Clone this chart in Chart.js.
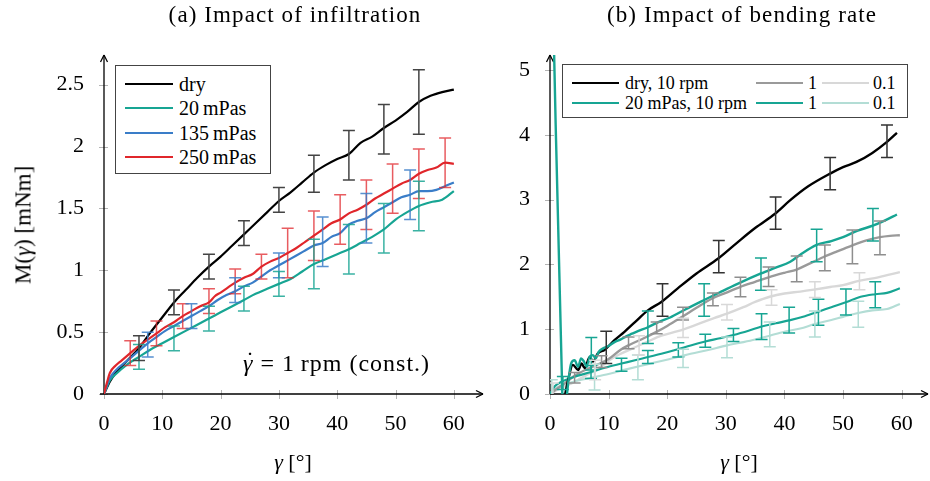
<!DOCTYPE html>
<html>
<head>
<meta charset="utf-8">
<script src="https://cdn.jsdelivr.net/npm/chart.js@4.4.1/dist/chart.umd.min.js"></script>
<style>
  body { margin: 0; background: #fff; }
  #wrap { position: relative; width: 930px; height: 481px; overflow: hidden; font-family: "Liberation Serif", serif; color: #000; }
  canvas { position: absolute; top: 0; }
  #cA { left: 0; }
  #cB { left: 470px; }
  .t { position: absolute; white-space: nowrap; line-height: 1; }
  .title { font-size: 23px; letter-spacing: 1.1px; top: 3px; transform: translateX(-50%); }
  .xlab { font-size: 22px; top: 451px; transform: translateX(-50%); }
  .ylab { font-size: 23px; left: 23px; top: 225px; transform: translate(-50%, -50%) rotate(-90deg); }
  .legend { position: absolute; background: #fff; border: 1.4px solid #444; box-sizing: border-box; }
  .legend .ln { position: absolute; height: 2.6px; }
  .legend .tx { position: absolute; white-space: nowrap; line-height: 1; transform: translateY(-50%); }
  #legA .tx { font-size: 20px; }
  #legB .tx { font-size: 18px; }
  .gd { position: relative; display: inline-block; }
  .gd .dot { position: absolute; left: 3px; top: -3px; font-style: normal; }
</style>
</head>
<body>
<div id="wrap">
  <canvas id="cA" width="490" height="481"></canvas>
  <canvas id="cB" width="460" height="481"></canvas>

  <div class="t title" style="left:295px">(a) Impact of infiltration</div>
  <div class="t title" style="left:742px">(b) Impact of bending rate</div>
  <div class="t ylab">M(<i>γ</i>) [mNm]</div>
  <div class="t xlab" style="left:293px"><i>γ</i> [°]</div>
  <div class="t xlab" style="left:739px"><i>γ</i> [°]</div>
  <div class="t" style="left:243px;top:351px;font-size:24px;letter-spacing:1px"><span class="gd"><i>γ</i><span class="dot">˙</span></span> = 1&#8201;rpm (const.)</div>

  <div class="legend" id="legA" style="left:115px;top:65px;width:156px;height:109px"></div>
  <div class="legend" id="legB" style="left:562px;top:64px;width:346px;height:54px"></div>
</div>

<script>
// ---------- (a) impact of infiltration, 1 rpm ----------
const aDryX  = [0,1,2,4,6,8,10,12,14,16,18,20,22,24,26,28,30,32,34,36,38,40,42,44,46,48,50,52,54,56,58,60];
const aDryY  = [0,0.1,0.17,0.27,0.37,0.5,0.62,0.74,0.84,0.94,1.03,1.11,1.2,1.29,1.38,1.47,1.56,1.63,1.71,1.79,1.85,1.9,1.94,2.03,2.08,2.15,2.21,2.28,2.36,2.41,2.44,2.46];
const aTealX = [0,1,2,4,6,8,10,12,14,16,18,20,22,24,26,28,30,32,34,36,38,40,42,44,46,48,50,52,54,56,58,60];
const aTealY = [0,0.11,0.16,0.24,0.3,0.36,0.41,0.46,0.51,0.56,0.61,0.66,0.71,0.76,0.81,0.85,0.89,0.93,0.99,1.05,1.09,1.13,1.17,1.22,1.27,1.33,1.41,1.47,1.52,1.55,1.57,1.64];
const aBlueX = [0,1,2,4,6,7.5,9,10.5,12,13.5,15,16.5,18,19.5,21,22.5,24,25.5,27,28.5,30,31.5,33,34.5,36,37.5,39,40.5,42,43.5,45,46.5,48,49.5,51,52.5,54,55.5,57,58.5,60];
const aBlueY = [0,0.13,0.19,0.27,0.35,0.41,0.46,0.51,0.55,0.59,0.63,0.67,0.71,0.76,0.8,0.83,0.87,0.9,0.95,1.0,1.04,1.08,1.12,1.16,1.2,1.22,1.27,1.3,1.37,1.4,1.42,1.47,1.51,1.55,1.59,1.61,1.64,1.64,1.65,1.68,1.71];
const aRedX  = [0,0.5,1,2,3,4.5,6,7.5,9,10.5,12,13.5,15,16.5,18,19,20,22.5,24,25.5,27,28.5,30,31.5,33,34.5,36,37.5,39,40.5,42,43.5,45,46.5,48,49.5,51,52.5,54,55.5,57,58.5,60];
const aRedY  = [0,0.09,0.17,0.23,0.27,0.33,0.39,0.44,0.49,0.54,0.58,0.63,0.67,0.71,0.74,0.79,0.82,0.9,0.94,0.97,1.03,1.07,1.1,1.14,1.18,1.23,1.28,1.33,1.38,1.41,1.46,1.49,1.53,1.58,1.62,1.66,1.7,1.73,1.78,1.81,1.83,1.87,1.86];

// error bars: position, centre, half height
const aDryErrX  = [6,12,18,24,30,36,42,48,54];
const aDryErrC  = [0.37,0.74,1.03,1.30,1.57,1.78,1.93,2.14,2.36];
const aDryErrH  = [0.1,0.1,0.1,0.1,0.1,0.15,0.2,0.2,0.26];
const aTealErrX = [6,12,18,24,30,36,42,48,54];
const aTealErrC = [0.30,0.45,0.61,0.77,0.89,1.05,1.17,1.34,1.52];
const aTealErrH = [0.1,0.1,0.1,0.1,0.1,0.2,0.2,0.2,0.2];
const aBlueErrX = [7.5,15,22.5,30,37.5,45,52.5];
const aBlueErrC = [0.40,0.63,0.84,1.04,1.23,1.42,1.61];
const aBlueErrH = [0.1,0.1,0.1,0.1,0.2,0.2,0.2];
const aRedErrX  = [4.5,9,13.5,18,22.5,27,31.5,36,40.5,45,49.5,54,58.5];
const aRedErrC  = [0.33,0.49,0.63,0.75,0.91,1.03,1.14,1.28,1.41,1.53,1.66,1.78,1.87];
const aRedErrH  = [0.1,0.1,0.1,0.1,0.1,0.1,0.2,0.2,0.2,0.2,0.2,0.2,0.2];

const aXTicks = [0,10,20,30,40,50,60];
const aYTicks = [0,0.5,1,1.5,2,2.5];

// ---------- (b) impact of bending rate ----------
const bDry10X  = [2.6,3.1,3.9,4.8,5.4,5.9,6.8,7.3,8.2,9.3,11,12.7,14.5,16.7,19,21.8,25,28.7,32,35,38.4,41,44,47.8,50,52.3,55,57.5,59.2];
const bDry10Y  = [0,0.22,0.45,0.37,0.47,0.40,0.57,0.50,0.63,0.68,0.83,0.96,1.11,1.29,1.42,1.63,1.86,2.09,2.34,2.56,2.78,2.99,3.2,3.40,3.5,3.58,3.72,3.89,4.03];
const bTeal10X = [0.4,2.1,2.5,2.9,3.6,4.2,4.8,5.3,5.8,6.3,6.8,7.3,7.8,8.3,9,10,11,12,13,14,15,16.7,18.5,20.5,23,26.3,29,32,36,38.5,41,42.7,45.5,48,50,52.5,55.2,57,59.2];
const bTeal10Y = [6.5,0,-0.4,0,0.47,0.52,0.42,0.55,0.5,0.42,0.58,0.6,0.55,0.65,0.7,0.74,0.8,0.84,0.89,0.93,0.97,1.03,1.11,1.18,1.3,1.45,1.57,1.7,1.86,1.95,2.04,2.15,2.30,2.36,2.42,2.52,2.60,2.67,2.77];
const bDry1X   = [0,1,2,3,4,6,8,10,12,13.6,16,18,20,22.7,25,27.6,30,32.4,35,37.3,40,42.1,44,46.6,49,51.5,54,56.3,58,59.7];
const bDry1Y   = [0,0.07,0.13,0.2,0.27,0.37,0.45,0.54,0.68,0.76,0.86,0.95,1.05,1.2,1.33,1.47,1.56,1.65,1.73,1.80,1.87,1.92,2.0,2.11,2.2,2.29,2.37,2.42,2.44,2.45];
const bTeal1X  = [0,0.8,2,4,7,9.5,12.2,14.5,16.7,19,21.8,24,26.5,29,31.3,34,36.1,38.5,41,43.5,45.8,48,50.6,53,55.5,57.5,59.7];
const bTeal1Y  = [0,0.12,0.19,0.26,0.34,0.41,0.47,0.52,0.57,0.62,0.69,0.75,0.81,0.86,0.91,0.98,1.04,1.09,1.14,1.2,1.27,1.34,1.42,1.5,1.54,1.56,1.63];
const bDry01X  = [0,2,4,6,8,11,14,16.7,19,21.8,25,28,30.2,33,35,37.5,40,42.7,45,47.8,50,52.9,56,59.7];
const bDry01Y  = [0,0.1,0.18,0.28,0.38,0.57,0.7,0.81,0.9,0.97,1.07,1.17,1.24,1.34,1.42,1.50,1.55,1.58,1.61,1.65,1.68,1.75,1.8,1.88];
const bTeal01X = [0,1,2,4,7,10,13,16.7,19,21.8,24,27,30.2,33,35,37.5,40,42.7,45.2,48,50,52.6,55,57.5,59.7];
const bTeal01Y = [0,0.09,0.13,0.19,0.25,0.31,0.38,0.46,0.51,0.57,0.62,0.68,0.75,0.8,0.84,0.9,0.96,1.01,1.08,1.14,1.19,1.25,1.29,1.31,1.39];

const bDry10ErrX  = [9.6,19.2,28.8,38.5,47.8,57.5];
const bDry10ErrC  = [0.72,1.45,2.12,2.79,3.40,3.90];
const bDry10ErrH  = [0.25,0.25,0.25,0.25,0.25,0.25];
const bTeal10ErrX = [7.05,16.7,26.3,36,45.5,55.1];
const bTeal10ErrC = [0.62,1.03,1.45,1.85,2.29,2.61];
const bTeal10ErrH = [0.25,0.25,0.25,0.25,0.25,0.25];
const bDry1ErrX   = [4.2,8.8,13.4,18.2,22.7,27.8,32.5,37.3,42.1,46.9,51.6,56.3];
const bDry1ErrC   = [0.25,0.5,0.79,1.02,1.24,1.46,1.65,1.81,1.93,2.10,2.27,2.41];
const bDry1ErrH   = [0.08,0.09,0.09,0.09,0.1,0.1,0.15,0.15,0.2,0.2,0.26,0.26];
const bTeal1ErrX  = [2.2,7,12.2,16.7,21.9,26.5,31.3,36.1,40.8,45.8,50.5,55.5];
const bTeal1ErrC  = [0.17,0.34,0.45,0.57,0.68,0.82,0.91,1.04,1.14,1.26,1.42,1.53];
const bTeal1ErrH  = [0.1,0.1,0.1,0.1,0.11,0.1,0.1,0.2,0.2,0.2,0.2,0.2];
const bDry01ErrX  = [0.5,7.7,15.2,22.7,30.2,37.8,45.2,52.8];
const bDry01ErrC  = [0.05,0.37,0.75,1.02,1.26,1.49,1.61,1.74];
const bDry01ErrH  = [0.12,0.15,0.15,0.15,0.12,0.12,0.12,0.13];
const bTeal01ErrX = [0.3,7.6,15,22.7,30.2,37.5,45.2,52.6];
const bTeal01ErrC = [0.1,0.26,0.41,0.55,0.72,0.92,1.08,1.23];
const bTeal01ErrH = [0.12,0.2,0.19,0.14,0.16,0.19,0.2,0.2];

const bXTicks = [0,10,20,30,40,50,60];
const bYTicks = [0,1,2,3,4,5];

// colours
const cBlack = '#000000', cTeal = '#17a593', cBlue = '#3a7dc8', cRed = '#e0262b';
const cGray = '#9a9a9a', cLightGray = '#d8d8d8', cLightTeal = '#b3ddd5';

const FONT = '"Liberation Serif", serif';
Chart.defaults.font.family = FONT;
Chart.defaults.font.size = 22;
Chart.defaults.color = '#000';

function pts(xs, ys) {
    return xs.map((x, i) => ({ x: x, y: ys[i] }));
}

function series(xs, ys, color, width, err) {
    return {
        data: pts(xs, ys),
        borderColor: color,
        borderWidth: width,
        pointRadius: 0,
        cubicInterpolationMode: 'monotone',
        fill: false,
        err: err
    };
}

/* axis lines with arrow heads and small crossing tick marks */
const axisPlugin = {
    id: 'axisArrows',
    beforeDatasetsDraw(chart, args, opts) {
        const { ctx, chartArea: a, scales: { x, y } } = chart;
        const line = (x1, y1, x2, y2) => { ctx.beginPath(); ctx.moveTo(x1, y1); ctx.lineTo(x2, y2); ctx.stroke(); };
        ctx.save();
        ctx.strokeStyle = '#b4b4b4';
        ctx.lineWidth = 1;
        x.ticks.forEach(t => { const px = Math.round(x.getPixelForValue(t.value)) + 0.5; line(px, a.bottom - 4, px, a.bottom + 5); });
        y.ticks.forEach(t => { const py = Math.round(y.getPixelForValue(t.value)) + 0.5; line(a.left - 5, py, a.left + 4, py); });
        ctx.strokeStyle = '#000';
        ctx.lineWidth = 1.3;
        line(a.left - (opts.xStart || 0), a.bottom, a.right, a.bottom);
        line(a.left, a.bottom, a.left, a.top);
        // arrow heads
        line(a.right - 7, a.bottom - 3.5, a.right, a.bottom);
        line(a.right - 7, a.bottom + 3.5, a.right, a.bottom);
        line(a.left - 3.5, a.top + 7, a.left, a.top);
        line(a.left + 3.5, a.top + 7, a.left, a.top);
        ctx.restore();
    }
};

/* vertical error bars with caps, read from dataset.err */
const errPlugin = {
    id: 'errBars',
    afterDatasetsDraw(chart) {
        const { ctx, chartArea: a, scales: { x, y } } = chart;
        ctx.save();
        ctx.beginPath();
        ctx.rect(a.left, a.top, a.right - a.left, a.bottom - a.top);
        ctx.clip();
        chart.data.datasets.forEach(ds => {
            const e = ds.err;
            if (!e) return;
            ctx.strokeStyle = e.color;
            ctx.lineWidth = 1.5;
            e.x.forEach((xv, i) => {
                const px = x.getPixelForValue(xv);
                const lo = y.getPixelForValue(e.c[i] - e.h[i]);
                const hi = y.getPixelForValue(e.c[i] + e.h[i]);
                ctx.beginPath();
                ctx.moveTo(px, lo); ctx.lineTo(px, hi);
                ctx.moveTo(px - 6, lo); ctx.lineTo(px + 6, lo);
                ctx.moveTo(px - 6, hi); ctx.lineTo(px + 6, hi);
                ctx.stroke();
            });
        });
        ctx.restore();
    }
};

function makeChart(id, datasets, cfg) {
    return new Chart(document.getElementById(id), {
        type: 'line',
        data: { datasets: datasets },
        plugins: [axisPlugin, errPlugin],
        options: {
            responsive: false,
            animation: false,
            devicePixelRatio: 1,
            layout: { padding: { top: 55, right: cfg.padRight, left: 0, bottom: 0 } },
            plugins: { legend: { display: false }, tooltip: { enabled: false }, axisArrows: { xStart: cfg.xStart } },
            scales: {
                x: {
                    type: 'linear', min: 0, max: cfg.xMax,
                    grid: { display: false }, border: { display: false },
                    ticks: { padding: 9, maxRotation: 0, font: { family: FONT, size: 22 } },
                    afterBuildTicks: s => { s.ticks = cfg.xTicks.map(v => ({ value: v })); },
                    afterFit: s => { s.height = 87; }
                },
                y: {
                    type: 'linear', min: 0, max: cfg.yMax,
                    grid: { display: false }, border: { display: false },
                    ticks: { padding: 12, font: { family: FONT, size: 22 }, callback: v => String(+v.toFixed(2)) },
                    afterBuildTicks: s => { s.ticks = cfg.yTicks.map(v => ({ value: v })); },
                    afterFit: s => { s.width = cfg.yWidth; }
                }
            }
        }
    });
}

function drawAll() {
    // first dataset is drawn on top
    makeChart('cA', [
        series(aRedX, aRedY, cRed, 2.2, { x: aRedErrX, c: aRedErrC, h: aRedErrH, color: 'rgba(224,38,43,0.75)' }),
        series(aBlueX, aBlueY, cBlue, 2.2, { x: aBlueErrX, c: aBlueErrC, h: aBlueErrH, color: 'rgba(58,125,200,0.85)' }),
        series(aTealX, aTealY, cTeal, 2.2, { x: aTealErrX, c: aTealErrC, h: aTealErrH, color: 'rgba(23,165,147,0.85)' }),
        series(aDryX, aDryY, cBlack, 2.2, { x: aDryErrX, c: aDryErrC, h: aDryErrH, color: '#444' })
    ], { xMax: 65, yMax: 2.74, yWidth: 104, padRight: 7, xStart: 4, xTicks: aXTicks, yTicks: aYTicks });

    makeChart('cB', [
        series(bTeal10X, bTeal10Y, cTeal, 2.4, { x: bTeal10ErrX, c: bTeal10ErrC, h: bTeal10ErrH, color: cTeal }),
        series(bDry10X, bDry10Y, cBlack, 2.4, { x: bDry10ErrX, c: bDry10ErrC, h: bDry10ErrH, color: '#333' }),
        series(bTeal1X, bTeal1Y, cTeal, 2.1, { x: bTeal1ErrX, c: bTeal1ErrC, h: bTeal1ErrH, color: cTeal }),
        series(bDry1X, bDry1Y, cGray, 2.4, { x: bDry1ErrX, c: bDry1ErrC, h: bDry1ErrH, color: '#8e8e8e' }),
        series(bTeal01X, bTeal01Y, cLightTeal, 2.1, { x: bTeal01ErrX, c: bTeal01ErrC, h: bTeal01ErrH, color: cLightTeal }),
        series(bDry01X, bDry01Y, cLightGray, 2.4, { x: bDry01ErrX, c: bDry01ErrC, h: bDry01ErrH, color: cLightGray })
    ], { xMax: 64.5, yMax: 5.23, yWidth: 80, padRight: 2, xStart: 0, xTicks: bXTicks, yTicks: bYTicks });
}

// ---------- HTML legends ----------
const legA = [
    ['dry', cBlack], ['20\u2009mPas', cTeal], ['135\u2009mPas', cBlue], ['250\u2009mPas', cRed]
];
const legARows = [18, 42, 67, 91];
const boxA = document.getElementById('legA');
legA.forEach((it, i) => {
    boxA.insertAdjacentHTML('beforeend',
        `<div class="ln" style="left:9px;top:${legARows[i] - 1.3}px;width:48px;background:${it[1]}"></div>` +
        `<div class="tx" style="left:63px;top:${legARows[i]}px">${it[0]}</div>`);
});

const legB = [
    ['dry, 10 rpm', cBlack, 9, 62, 0], ['20 mPas, 10 rpm', cTeal, 9, 62, 1],
    ['1', cGray, 193, 245, 0], ['1', cTeal, 193, 245, 1],
    ['0.1', cLightGray, 259, 310, 0], ['0.1', cLightTeal, 259, 310, 1]
];
const legBRows = [18, 38];
const boxB = document.getElementById('legB');
legB.forEach(it => {
    const top = legBRows[it[4]];
    boxB.insertAdjacentHTML('beforeend',
        `<div class="ln" style="left:${it[2]}px;top:${top - 1.3}px;width:47px;background:${it[1]}"></div>` +
        `<div class="tx" style="left:${it[3]}px;top:${top}px">${it[0]}</div>`);
});

// make sure the serif face is ready before the canvases draw text
document.fonts.load('22px "Liberation Serif"').then(drawAll, drawAll);
</script>
</body>
</html>
